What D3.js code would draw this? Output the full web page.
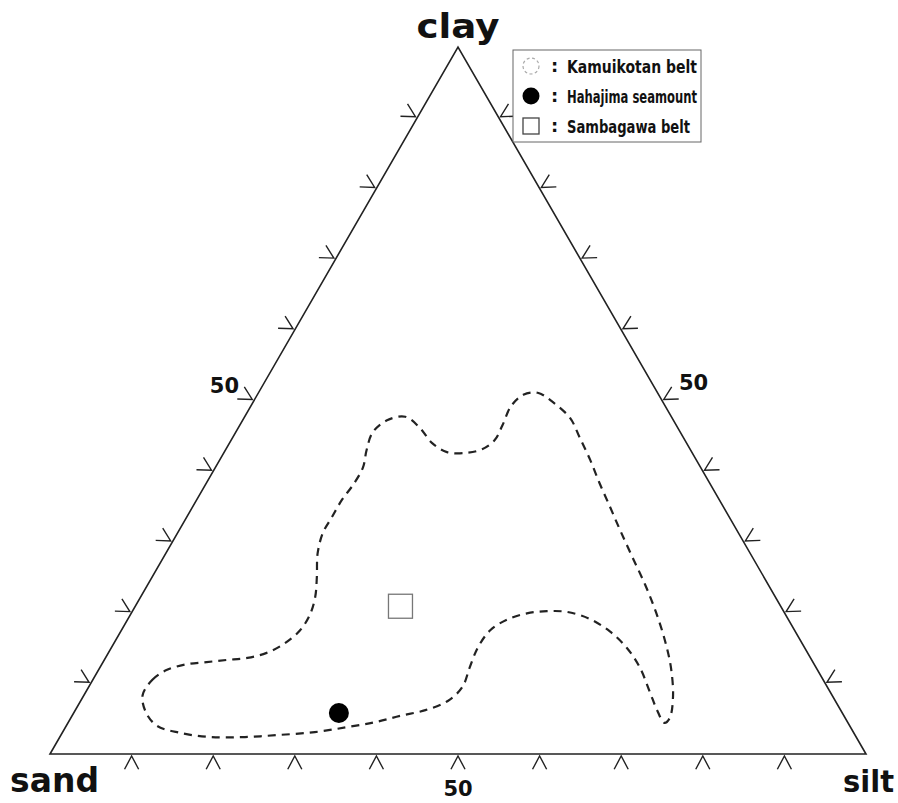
<!DOCTYPE html>
<html>
<head>
<meta charset="utf-8">
<script src="https://cdn.jsdelivr.net/npm/d3@7/dist/d3.min.js"></script>
<style>
  html, body { margin: 0; padding: 0; background: #fff; }
  svg { display: block; }
  text { font-family: "DejaVu Sans", "Noto Sans", sans-serif; font-weight: bold; fill: #111; }
</style>
</head>
<body>
<svg id="chart" width="898" height="803"></svg>
<script>
// Ternary grain-size diagram: sand – silt – clay (percent)
const cornerNames = ["sand", "silt", "clay"];
const tickValues = [10, 20, 30, 40, 50, 60, 70, 80, 90];
const labelledTicks = ["50"];

// Kamuikotan belt field outline, as [silt %, clay %] (sand = remainder)
const kamuikotanOutline = [
  [7.2, 8.3], [7.3, 10.5], [8.4, 11.9], [10.4, 12.7], [12.7, 13.0], [15.0, 13.3],
  [17.4, 13.6], [19.4, 14.3], [20.9, 15.6], [21.9, 17.5], [22.0, 19.7], [21.4, 22.2],
  [20.2, 25.0], [18.6, 28.4], [17.8, 31.3], [17.8, 33.5], [17.8, 35.9], [18.1, 38.0],
  [18.1, 40.5], [17.3, 43.0], [16.8, 45.5], [17.7, 47.2], [19.7, 47.7], [22.3, 46.1],
  [24.8, 44.0], [27.3, 42.7], [29.8, 42.6], [31.4, 43.1], [32.3, 44.4], [32.2, 46.5],
  [31.9, 49.2], [32.6, 50.8], [34.2, 51.1], [36.7, 49.8], [40.0, 47.5], [42.5, 44.8],
  [45.4, 41.6], [48.2, 38.3], [51.2, 34.9], [54.0, 31.7], [57.4, 27.9], [61.0, 23.9],
  [64.2, 20.1], [67.3, 16.1], [70.0, 12.2], [72.3, 8.1], [73.4, 5.1], [73.1, 4.4],
  [71.3, 6.2], [69.1, 8.8], [66.2, 12.2], [63.2, 15.0], [60.0, 17.3], [56.6, 19.1],
  [53.3, 20.1], [50.8, 20.2], [48.5, 19.9], [46.5, 19.0], [45.2, 17.5], [44.9, 15.1],
  [45.3, 12.3], [45.8, 9.5], [45.0, 7.5], [42.9, 6.2], [40.2, 5.4], [37.6, 4.5],
  [34.5, 3.8], [30.9, 3.1], [26.8, 2.7], [22.7, 2.4], [18.4, 2.4], [14.4, 3.0],
  [11.1, 4.0], [8.8, 5.9]
];

// Single samples, [silt %, clay %]
const hahajimaSeamount = [[32.5, 5.8]];
const sambagawaBelt = [[32.5, 20.9]];

const legendItems = ["Kamuikotan belt", "Hahajima seamount", "Sambagawa belt"];

const svg = d3.select("#chart");

// Horizontal position follows silt + clay/2, vertical follows clay.
const x = d3.scaleLinear().domain([0, 100]).range([50, 866]);
const y = d3.scaleLinear().domain([0, 100]).range([754, 47]);
const project = (silt, clay) => [x(silt + clay / 2), y(clay)];

const corners = {
  sand: project(0, 0),
  silt: project(100, 0),
  clay: project(0, 100)
};

// Triangle frame
svg.append("path")
  .attr("d", d3.line()([corners.sand, corners.silt, corners.clay]) + "Z")
  .attr("fill", "none")
  .attr("stroke", "#222")
  .attr("stroke-width", 1.6)
  .attr("stroke-linejoin", "miter");

// Chevron ticks on the three edges, pointing outward
const edges = [
  { from: corners.sand, to: corners.silt },   // bottom
  { from: corners.silt, to: corners.clay },   // right
  { from: corners.clay, to: corners.sand }    // left
];
const centroid = [
  (corners.sand[0] + corners.silt[0] + corners.clay[0]) / 3,
  (corners.sand[1] + corners.silt[1] + corners.clay[1]) / 3
];
const legLen = 15, legAngle = 28 * Math.PI / 180, gap = 2;
const rot = (v, a) => [v[0] * Math.cos(a) - v[1] * Math.sin(a), v[0] * Math.sin(a) + v[1] * Math.cos(a)];

edges.forEach(e => {
  const dx = e.to[0] - e.from[0], dy = e.to[1] - e.from[1];
  const len = Math.hypot(dx, dy);
  let n = [dy / len, -dx / len];
  const mid = [(e.from[0] + e.to[0]) / 2, (e.from[1] + e.to[1]) / 2];
  if ((mid[0] - centroid[0]) * n[0] + (mid[1] - centroid[1]) * n[1] < 0) n = [-n[0], -n[1]];
  tickValues.forEach(t => {
    const p = [e.from[0] + dx * t / 100, e.from[1] + dy * t / 100];
    const apex = [p[0] + n[0] * gap, p[1] + n[1] * gap];
    const l1 = rot(n, legAngle), l2 = rot(n, -legAngle);
    svg.append("path")
      .attr("d", d3.line()([
        [apex[0] + l1[0] * legLen, apex[1] + l1[1] * legLen],
        apex,
        [apex[0] + l2[0] * legLen, apex[1] + l2[1] * legLen]
      ]))
      .attr("fill", "none")
      .attr("stroke", "#222")
      .attr("stroke-width", 1.4);
  });
});

// "50" labels at the midpoint of each edge
const midTick = +labelledTicks[0];
const bottomMid = project(midTick, 0);
const rightMid = project(100 - midTick, midTick);
const leftMid = project(0, midTick);
svg.append("text").attr("x", bottomMid[0]).attr("y", bottomMid[1] + 42)
  .attr("text-anchor", "middle").attr("font-size", 21).text(labelledTicks[0]);
svg.append("text").attr("x", rightMid[0] + 17).attr("y", rightMid[1] - 11)
  .attr("text-anchor", "start").attr("font-size", 21).text(labelledTicks[0]);
svg.append("text").attr("x", leftMid[0] - 15).attr("y", leftMid[1] - 8)
  .attr("text-anchor", "end").attr("font-size", 21).text(labelledTicks[0]);

// Corner names
svg.append("text").attr("x", corners.clay[0]).attr("y", 38)
  .attr("text-anchor", "middle").attr("font-size", 33)
  .attr("textLength", 83).attr("lengthAdjust", "spacingAndGlyphs")
  .text(cornerNames[2]);
svg.append("text").attr("x", 10).attr("y", 792)
  .attr("font-size", 34)
  .attr("textLength", 89).attr("lengthAdjust", "spacingAndGlyphs")
  .text(cornerNames[0]);
svg.append("text").attr("x", 843).attr("y", 792)
  .attr("font-size", 30)
  .attr("textLength", 51).attr("lengthAdjust", "spacingAndGlyphs")
  .text(cornerNames[1]);

// Kamuikotan belt field
svg.append("path")
  .datum(kamuikotanOutline.map(d => project(d[0], d[1])))
  .attr("d", d3.line().curve(d3.curveCatmullRomClosed.alpha(0.5)))
  .attr("fill", "none")
  .attr("stroke", "#222")
  .attr("stroke-width", 2.2)
  .attr("stroke-dasharray", "8,6");

// Sambagawa belt sample
svg.selectAll("rect.sambagawa")
  .data(sambagawaBelt)
  .join("rect")
  .attr("class", "sambagawa")
  .attr("x", d => project(d[0], d[1])[0] - 12)
  .attr("y", d => project(d[0], d[1])[1] - 12)
  .attr("width", 24).attr("height", 24)
  .attr("fill", "#fff")
  .attr("stroke", "#777")
  .attr("stroke-width", 1.3);

// Hahajima seamount sample
svg.selectAll("circle.hahajima")
  .data(hahajimaSeamount)
  .join("circle")
  .attr("class", "hahajima")
  .attr("cx", d => project(d[0], d[1])[0])
  .attr("cy", d => project(d[0], d[1])[1])
  .attr("r", 10)
  .attr("fill", "#000");

// Legend
const lg = svg.append("g").attr("transform", "translate(513,50)");
lg.append("rect").attr("x", 0).attr("y", 0).attr("width", 188).attr("height", 92)
  .attr("fill", "#fff").attr("stroke", "#666").attr("stroke-width", 1);
const rowY = [16, 46, 76];
const textWidths = [130, 130, 123];
lg.append("circle").attr("cx", 18).attr("cy", rowY[0]).attr("r", 8)
  .attr("fill", "none").attr("stroke", "#aaa").attr("stroke-width", 1.2)
  .attr("stroke-dasharray", "3,2.5");
lg.append("circle").attr("cx", 18).attr("cy", rowY[1]).attr("r", 8.5).attr("fill", "#000");
lg.append("rect").attr("x", 10).attr("y", rowY[2] - 8).attr("width", 16).attr("height", 16)
  .attr("fill", "#fff").attr("stroke", "#444").attr("stroke-width", 1.3);
legendItems.forEach((t, i) => {
  lg.append("text").attr("x", 38).attr("y", rowY[i] + 6).attr("font-size", 18).text(":");
  lg.append("text").attr("x", 54).attr("y", rowY[i] + 7).attr("font-size", 18)
    .attr("textLength", textWidths[i]).attr("lengthAdjust", "spacingAndGlyphs")
    .text(t);
});
</script>
</body>
</html>
